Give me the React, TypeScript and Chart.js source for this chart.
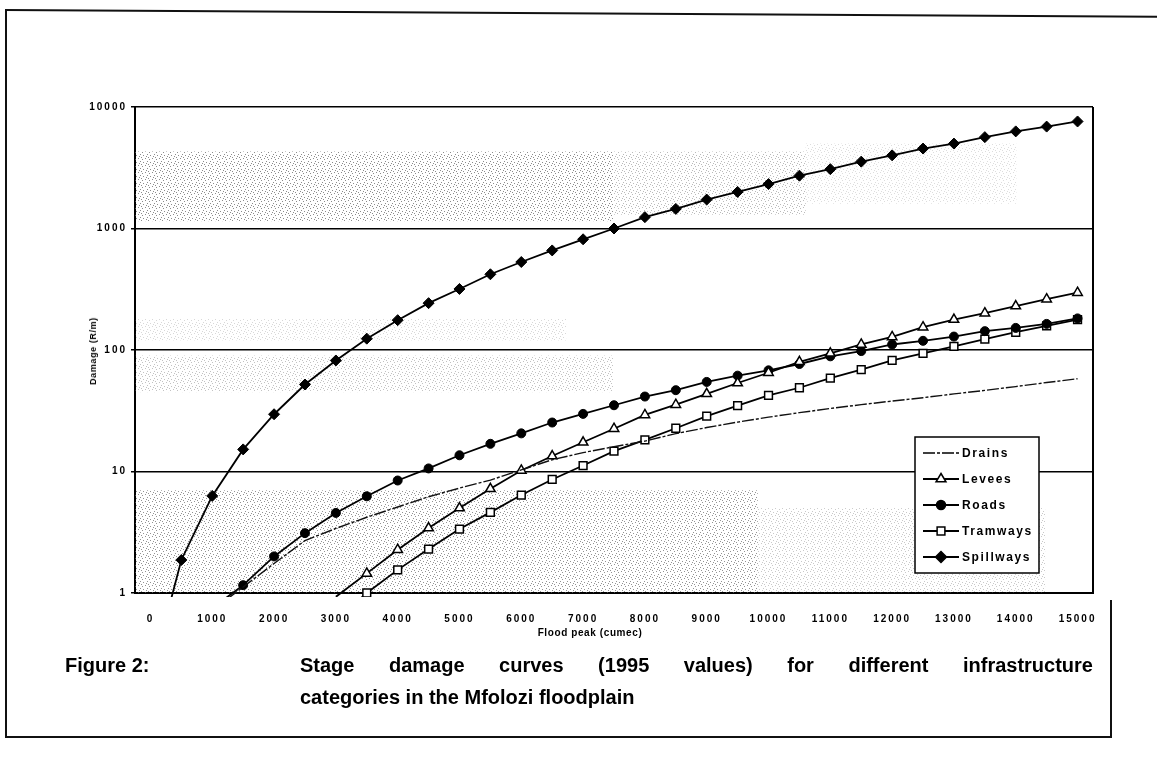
import React, { useEffect, useRef } from 'react';
import { Chart, registerables } from 'chart.js';

Chart.register(...registerables);

// ---- Data ----
const categories = [
  '0', '500', '1000', '1500', '2000', '2500', '3000', '3500', '4000', '4500',
  '5000', '5500', '6000', '6500', '7000', '7500', '8000', '8500', '9000', '9500',
  '10000', '10500', '11000', '11500', '12000', '12500', '13000', '13500', '14000', '14500',
  '15000',
];

const drains = [
  null, null, 0.72, 1.12, 1.75, 2.7, 3.4, 4.2, 5.1, 6.2,
  7.3, 8.5, 10.3, 12.5, 14.3, 16.0, 17.8, 20.5, 23, 25.5,
  28, 30.5, 33, 35.5, 38, 40.5, 43.5, 46.5, 50, 54,
  58,
];

const levees = [
  null, null, null, null, null, null, 0.93, 1.45, 2.27, 3.42,
  5.0, 7.2, 10.2, 13.4, 17.4, 22.5, 29.2, 35.5, 43.6, 53.5,
  65, 80, 94, 111, 128, 154, 178, 201, 230, 262,
  296,
];

const roads = [
  null, null, 0.75, 1.16, 2.0, 3.11, 4.56, 6.25, 8.43, 10.6,
  13.6, 16.9, 20.6, 25.3, 29.8, 35.1, 41.4, 46.7, 54.6, 61.5,
  68, 76.7, 88.7, 98, 111, 119, 129, 143, 152, 164,
  182,
];

const tramways = [
  null, null, null, null, null, null, 0.6, 1.0, 1.55, 2.3,
  3.36, 4.61, 6.4, 8.6, 11.2, 14.7, 18.2, 22.7, 28.6, 34.8,
  42.3, 48.9, 58.6, 69, 82, 94, 107, 123, 140, 158,
  178,
];

const spillways = [
  0.2, 1.87, 6.3, 15.2, 29.6, 52, 82, 124, 176, 243,
  318, 420, 530, 660, 815, 1000, 1240, 1450, 1730, 2000,
  2320, 2720, 3080, 3550, 4000, 4550, 5000, 5650, 6300, 6900,
  7600,
];

const yTickValues = [1, 10, 100, 1000, 10000];
const seriesNames = ['Drains', 'Levees', 'Roads', 'Tramways', 'Spillways'];

const FONT = '"Liberation Sans", Arial, sans-serif';

function drawMarker(ctx: CanvasRenderingContext2D, style: string, x: number, y: number, r: number, fill: string) {
  ctx.save();
  ctx.beginPath();
  if (style === 'circle') {
    ctx.arc(x, y, r, 0, Math.PI * 2);
  } else if (style === 'rectRot') {
    ctx.moveTo(x - r, y);
    ctx.lineTo(x, y - r);
    ctx.lineTo(x + r, y);
    ctx.lineTo(x, y + r);
    ctx.closePath();
  } else if (style === 'rect') {
    const s = r * Math.SQRT1_2;
    ctx.rect(x - s, y - s, 2 * s, 2 * s);
  } else if (style === 'triangle') {
    const h = r * 1.5;
    ctx.moveTo(x, y - r);
    ctx.lineTo(x + r * 0.9, y + h - r);
    ctx.lineTo(x - r * 0.9, y + h - r);
    ctx.closePath();
  }
  ctx.fillStyle = fill;
  ctx.fill();
  ctx.lineWidth = 1.5;
  ctx.strokeStyle = '#000';
  ctx.stroke();
  ctx.restore();
}

export default function App() {
  const ref = useRef<HTMLCanvasElement | null>(null);

  useEffect(() => {
    const canvas = ref.current;
    if (!canvas) return;

    const radiusFor = (r: number) => (c: any) => (c.raw == null || c.raw < 1 ? 0 : r);

    const stipplePlugin = {
      id: 'stipple',
      beforeDatasetsDraw(chart: any) {
        const { ctx, chartArea } = chart;
        const y = chart.scales.y;
        const pc = document.createElement('canvas');
        pc.width = 7;
        pc.height = 7;
        const p = pc.getContext('2d')!;
        p.fillStyle = '#666';
        [[0, 0], [3, 1], [1, 3], [5, 4], [2, 5], [6, 2]].forEach(([a, b]) => p.fillRect(a, b, 1, 1));
        const pattern = ctx.createPattern(pc, 'repeat');
        const w = chartArea.right - chartArea.left;
        const bands = [
          { f0: 0, f1: 0.5, v0: 1150, v1: 4300, a: 0.75 },
          { f0: 0.5, f1: 0.7, v0: 1300, v1: 4300, a: 0.45 },
          { f0: 0.7, f1: 0.92, v0: 1600, v1: 5000, a: 0.22 },
          { f0: 0, f1: 0.5, v0: 45, v1: 90, a: 0.4 },
          { f0: 0, f1: 0.45, v0: 120, v1: 180, a: 0.25 },
          { f0: 0, f1: 0.65, v0: 1, v1: 7, a: 0.7 },
          { f0: 0.65, f1: 0.95, v0: 1, v1: 5, a: 0.35 },
        ];
        ctx.save();
        ctx.fillStyle = pattern;
        bands.forEach((b) => {
          ctx.globalAlpha = b.a;
          const x0 = chartArea.left + b.f0 * w;
          const x1 = chartArea.left + b.f1 * w;
          const yTop = y.getPixelForValue(b.v1);
          const yBot = y.getPixelForValue(b.v0);
          ctx.fillRect(x0, yTop, x1 - x0, yBot - yTop);
        });
        ctx.restore();
      },
    };

    const spacingPlugin = {
      id: 'spacing',
      beforeDraw(chart: any) {
        (chart.ctx as any).letterSpacing = '2px';
      },
      afterDraw(chart: any) {
        (chart.ctx as any).letterSpacing = '0px';
      },
    };

    const legendPlugin = {
      id: 'boxLegend',
      afterDatasetsDraw(chart: any) {
        const { ctx, chartArea } = chart;
        ctx.save();
        ctx.strokeStyle = '#000';
        ctx.lineWidth = 2;
        ctx.beginPath();
        ctx.moveTo(chartArea.right, chartArea.top);
        ctx.lineTo(chartArea.right, chartArea.bottom);
        ctx.stroke();

        const bx = 915, by = 437, bw = 124, bh = 136;
        ctx.fillStyle = '#fff';
        ctx.fillRect(bx, by, bw, bh);
        ctx.lineWidth = 1.5;
        ctx.strokeRect(bx, by, bw, bh);
        const ds = chart.data.datasets;
        ds.forEach((d: any, i: number) => {
          const yy = by + 16 + i * 26;
          ctx.save();
          ctx.strokeStyle = '#000';
          ctx.lineWidth = d.borderWidth;
          ctx.setLineDash(d.borderDash || []);
          ctx.beginPath();
          ctx.moveTo(bx + 8, yy);
          ctx.lineTo(bx + 44, yy);
          ctx.stroke();
          ctx.restore();
          if (d.legendMarker) {
            drawMarker(ctx, d.pointStyle, bx + 26, yy, d.legendMarker, d.pointBackgroundColor);
          }
          ctx.fillStyle = '#000';
          ctx.font = 'bold 12px ' + FONT;
          (ctx as any).letterSpacing = '1.6px';
          ctx.textAlign = 'left';
          ctx.textBaseline = 'middle';
          ctx.fillText(d.label, bx + 47, yy + 1);
          (ctx as any).letterSpacing = '2px';
        });
        ctx.restore();
      },
    };

    const tickFont = { family: FONT, size: 10, weight: 'bold' as const };

    const chart = new Chart(canvas, {
      type: 'line',
      data: {
        labels: categories,
        datasets: [
          {
            label: seriesNames[0],
            data: drains,
            borderColor: '#111',
            borderWidth: 1.4,
            borderDash: [12, 2, 3, 2],
            pointRadius: 0,
            pointStyle: 'circle',
            pointBackgroundColor: '#000',
            legendMarker: 0,
          } as any,
          {
            label: seriesNames[1],
            data: levees,
            borderColor: '#000',
            borderWidth: 1.8,
            pointStyle: 'triangle',
            pointRadius: radiusFor(5.5),
            pointBackgroundColor: '#fff',
            pointBorderColor: '#000',
            pointBorderWidth: 1.5,
            legendMarker: 5.5,
          } as any,
          {
            label: seriesNames[2],
            data: roads,
            borderColor: '#000',
            borderWidth: 1.8,
            pointStyle: 'circle',
            pointRadius: radiusFor(4.5),
            pointBackgroundColor: '#000',
            pointBorderColor: '#000',
            pointBorderWidth: 1,
            legendMarker: 4.5,
          } as any,
          {
            label: seriesNames[3],
            data: tramways,
            borderColor: '#000',
            borderWidth: 1.8,
            pointStyle: 'rect',
            pointRadius: radiusFor(5.5),
            pointBackgroundColor: '#fff',
            pointBorderColor: '#000',
            pointBorderWidth: 1.5,
            legendMarker: 5.5,
          } as any,
          {
            label: seriesNames[4],
            data: spillways,
            borderColor: '#000',
            borderWidth: 1.8,
            pointStyle: 'rectRot',
            pointRadius: radiusFor(5.5),
            pointBackgroundColor: '#000',
            pointBorderColor: '#000',
            pointBorderWidth: 1,
            legendMarker: 5.5,
          } as any,
        ].map((d) => ({ ...d, tension: 0, spanGaps: false, clip: { left: 0, top: 0, right: 0, bottom: 4 } })),
      },
      options: {
        responsive: false,
        animation: false,
        devicePixelRatio: 1,
        layout: { padding: { left: 83, top: 107, right: 64, bottom: 139 } },
        plugins: {
          legend: { display: false },
          tooltip: { enabled: false },
        },
        scales: {
          x: {
            type: 'category',
            offset: true,
            grid: { display: false },
            border: { display: true, color: '#000', width: 2 },
            ticks: {
              autoSkip: false,
              maxRotation: 0,
              minRotation: 0,
              padding: 12,
              color: '#000',
              font: tickFont,
              callback: (_v: any, i: number) => (i % 2 === 0 ? categories[i] : ''),
            },
            afterFit: (s: any) => {
              s.height = 45;
            },
          },
          y: {
            type: 'logarithmic',
            min: 1,
            max: 10000,
            afterBuildTicks: (s: any) => {
              s.ticks = yTickValues.map((v) => ({ value: v }));
            },
            grid: { color: '#000', lineWidth: 1.5, tickLength: 4, drawTicks: true },
            border: { display: true, color: '#000', width: 2 },
            ticks: {
              padding: 4,
              color: '#000',
              font: tickFont,
              callback: (v: any) => String(v),
            },
            afterFit: (s: any) => {
              s.width = 52;
            },
          },
        },
      } as any,
      plugins: [spacingPlugin, stipplePlugin, legendPlugin],
    });

    return () => chart.destroy();
  }, []);

  const line = (style: React.CSSProperties) => (
    <div style={{ position: 'absolute', background: '#111', ...style }} />
  );

  const captionStyle: React.CSSProperties = {
    position: 'absolute',
    fontSize: 20,
    fontWeight: 'bold',
    lineHeight: '24px',
    whiteSpace: 'nowrap',
  };

  return (
    <div
      style={{
        position: 'absolute',
        left: 0,
        top: 0,
        width: 1157,
        height: 777,
        background: '#fff',
        overflow: 'hidden',
        fontFamily: FONT,
        color: '#000',
      }}
    >
      <canvas
        ref={ref}
        width={1157}
        height={777}
        style={{ position: 'absolute', left: 0, top: 0, width: 1157, height: 777 }}
      />
      {line({ left: 5, top: 9, width: 1155, height: 2, transform: 'rotate(0.33deg)', transformOrigin: '0 0' })}
      {line({ left: 5, top: 9, width: 2, height: 729 })}
      {line({ left: 5, top: 736, width: 1107, height: 2 })}
      {line({ left: 1110, top: 600, width: 1.5, height: 138 })}
      <div
        style={{
          position: 'absolute',
          left: 93,
          top: 351,
          transform: 'translate(-50%, -50%) rotate(-90deg)',
          fontSize: 9,
          fontWeight: 'bold',
          letterSpacing: '0.6px',
          whiteSpace: 'nowrap',
        }}
      >
        Damage (R/m)
      </div>
      <div
        style={{
          position: 'absolute',
          left: 590,
          top: 632,
          transform: 'translate(-50%, -50%)',
          fontSize: 10,
          fontWeight: 'bold',
          letterSpacing: '0.6px',
          whiteSpace: 'nowrap',
        }}
      >
        Flood peak (cumec)
      </div>
      <div style={{ ...captionStyle, left: 65, top: 653 }}>Figure 2:</div>
      <div
        style={{
          ...captionStyle,
          left: 300,
          top: 653,
          width: 793,
          textAlign: 'justify',
          textAlignLast: 'justify' as any,
        }}
      >
        Stage damage curves (1995 values) for different infrastructure
      </div>
      <div style={{ ...captionStyle, left: 300, top: 685 }}>categories in the Mfolozi floodplain</div>
    </div>
  );
}
